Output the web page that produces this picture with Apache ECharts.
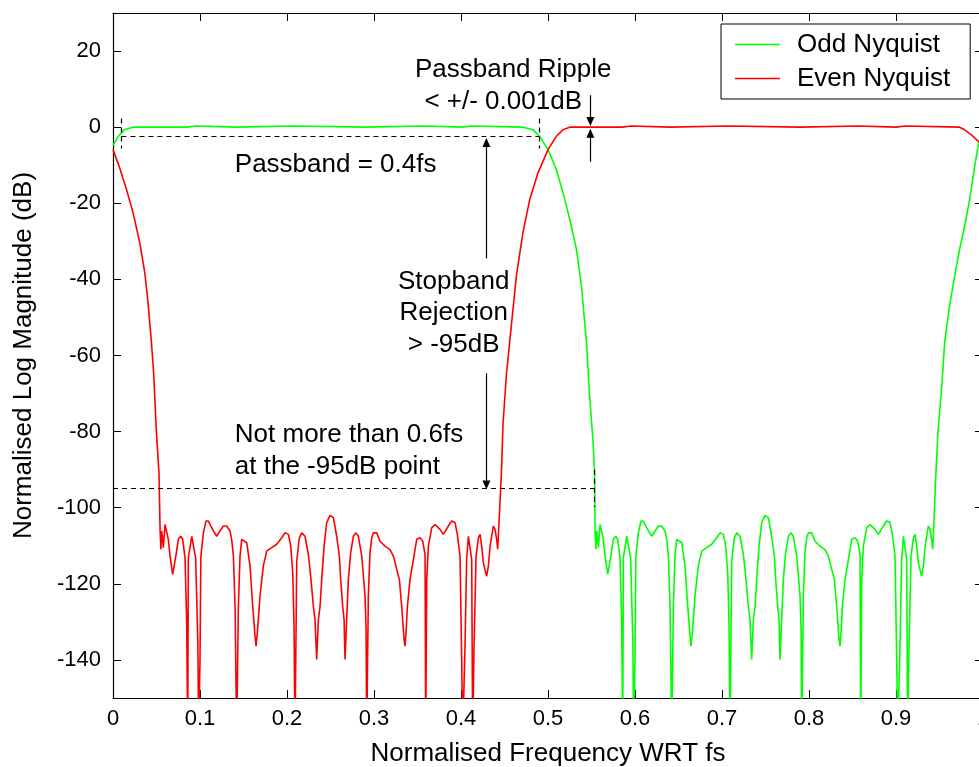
<!DOCTYPE html>
<html>
<head>
<meta charset="utf-8">
<title>Odd / Even Nyquist filter response</title>
<script src="https://cdn.jsdelivr.net/npm/echarts@6/dist/echarts.min.js"></script>
<style>
  html, body { margin: 0; padding: 0; background: #fff; }
  #chart { width: 979px; height: 767px; }
</style>
</head>
<body>
<div id="chart"></div>
<script>
// y tick values (x ticks come from interval 0.1)
const yTickValues = [-140, -120, -100, -80, -60, -40, -20, 0, 20];

// Odd Nyquist (green) - [freq WRT fs, dB]
const oddNyquist = [
  [0, -4.8], [0.006, -2.4], [0.013, -0.7], [0.023, 0],
  [0.085, 0], [0.086, 0.3], [0.096, 0.3], [0.097, 0],
  [0.141, 0], [0.142, 0.3], [0.207, 0.3], [0.208, 0],
  [0.291, 0], [0.292, 0.3], [0.357, 0.3], [0.358, 0],
  [0.402, 0], [0.403, 0.3], [0.412, 0.3], [0.413, 0],
  [0.471, 0], [0.4828, -0.7], [0.4904, -2.4], [0.5, -5.9], [0.5096, -11.1], [0.5172, -17.2],
  [0.525, -24.2], [0.5326, -32], [0.5384, -41.6], [0.5441, -56.3], [0.548, -71.1], [0.5517, -82.4], [0.5536, -91.1],
  [0.5541, -105.7], [0.5550, -110.9], [0.5560, -106.1], [0.5579, -110.5], [0.5598, -104.4], [0.5617, -104.8],
  [0.5636, -108.3], [0.5656, -112.7], [0.5686, -117.5], [0.5702, -117.1], [0.5725, -112.3], [0.5751, -108.3],
  [0.5778, -107.5], [0.5801, -108.3], [0.5828, -113.2], [0.5847, -130], [0.5859, -160], [0.5866, -113.2],
  [0.5905, -107.5], [0.5924, -107.0], [0.5950, -113.2], [0.5975, -135], [0.5985, -160], [0.6000, -139.9],
  [0.6010, -112.7], [0.6039, -106.6], [0.6069, -103.5], [0.6096, -103.5], [0.6115, -104.4], [0.6154, -106.1],
  [0.6192, -107.5], [0.6230, -106.1], [0.6269, -104.8], [0.6307, -104.8], [0.6345, -106.1], [0.6364, -108.3],
  [0.6384, -112.7], [0.6403, -125.9], [0.6422, -160], [0.6441, -125.9], [0.6460, -112.7], [0.6479, -108.3],
  [0.6498, -107.9], [0.6537, -109.2], [0.6575, -115.3], [0.6606, -125.9], [0.6633, -133.8], [0.6644, -136.4],
  [0.6659, -132.9], [0.6690, -123.2], [0.6728, -115.3], [0.6767, -111.4], [0.6824, -110.5], [0.6882, -109.6],
  [0.6939, -107.9], [0.6977, -106.6], [0.7016, -107.0], [0.7043, -110.1], [0.7066, -117.1], [0.7081, -131.1],
  [0.7092, -160], [0.7112, -114.0], [0.7142, -107.9], [0.7169, -106.6], [0.7207, -107.5], [0.7246, -112.3],
  [0.7276, -118.9], [0.7303, -125.9], [0.7322, -129.4], [0.7341, -139.9], [0.7361, -129.4], [0.7380, -125.9],
  [0.7399, -118.9], [0.7426, -110.1], [0.7456, -103.9], [0.7495, -102.0], [0.7533, -102.6], [0.7571, -107.5],
  [0.7602, -112.7], [0.7617, -118.9], [0.7640, -125.9], [0.7656, -129.4], [0.7667, -139.9], [0.7686, -129.4],
  [0.7705, -118.9], [0.7732, -111.8], [0.7763, -107.5], [0.7790, -106.6], [0.7820, -107.5], [0.7859, -112.7],
  [0.7897, -123.2], [0.7909, -132], [0.7916, -160], [0.7935, -123.2], [0.7954, -111.8], [0.7974, -107.9],
  [0.7993, -106.6], [0.8031, -106.6], [0.8069, -108.8], [0.8127, -110.1], [0.8184, -111], [0.8223, -112.7],
  [0.8261, -116.2], [0.8292, -118.9], [0.8318, -125.9], [0.8345, -134.6], [0.8357, -136.4], [0.8368, -132.9],
  [0.8384, -125.9], [0.8414, -118.9], [0.8453, -113.6], [0.8491, -108.3], [0.8529, -107.9], [0.8560, -108.8],
  [0.8587, -112.3], [0.8594, -160], [0.8606, -118.9], [0.8625, -110.1], [0.8663, -105.3], [0.8702, -104.4],
  [0.8759, -105.7], [0.8797, -107.0], [0.8855, -104.8], [0.8893, -103.5], [0.8931, -103.9], [0.8958, -107.0],
  [0.8989, -112.7], [0.9008, -139.9], [0.9020, -160], [0.9046, -136.4], [0.9065, -113.6], [0.9085, -107.5],
  [0.9104, -107.5], [0.9123, -113.6], [0.9134, -160], [0.9150, -136.4], [0.9173, -112.7], [0.9200, -107.9],
  [0.9219, -107.0], [0.9238, -110.1], [0.9257, -114.5], [0.9295, -118.0], [0.9315, -115.3], [0.9334, -110.1],
  [0.9372, -104.8], [0.9391, -105.7], [0.9410, -108.3], [0.9422, -110.9], [0.9433, -105.7], [0.9449, -105.7],
  [0.9458, -91.1], [0.9483, -79.8], [0.9522, -69.4], [0.956, -56.3], [0.9617, -46.8], [0.9675, -39],
  [0.9732, -32], [0.979, -25.9], [0.9847, -19], [0.9904, -10.3], [0.995, -4.2], [1, -3.5]
];

// Even Nyquist (red)
const evenNyquist = [
  [0, -5.9], [0.0077, -10.7], [0.0154, -16.3], [0.023, -22.4], [0.0307, -30.3], [0.0364, -38], [0.0402, -45.9],
  [0.0441, -56.3], [0.0468, -65], [0.0498, -79.8], [0.0529, -91.1],
  [0.0541, -105.7], [0.0550, -110.9], [0.0560, -106.1], [0.0579, -110.5], [0.0598, -104.4], [0.0617, -104.8],
  [0.0636, -108.3], [0.0656, -112.7], [0.0686, -117.5], [0.0702, -117.1], [0.0725, -112.3], [0.0751, -108.3],
  [0.0778, -107.5], [0.0801, -108.3], [0.0828, -113.2], [0.0847, -130], [0.0859, -160], [0.0866, -113.2],
  [0.0905, -107.5], [0.0924, -107.0], [0.0950, -113.2], [0.0975, -135], [0.0985, -160], [0.1000, -139.9],
  [0.1010, -112.7], [0.1039, -106.6], [0.1069, -103.5], [0.1096, -103.5], [0.1115, -104.4], [0.1154, -106.1],
  [0.1192, -107.5], [0.1230, -106.1], [0.1269, -104.8], [0.1307, -104.8], [0.1345, -106.1], [0.1364, -108.3],
  [0.1384, -112.7], [0.1403, -125.9], [0.1422, -160], [0.1441, -125.9], [0.1460, -112.7], [0.1479, -108.3],
  [0.1498, -107.9], [0.1537, -109.2], [0.1575, -115.3], [0.1606, -125.9], [0.1633, -133.8], [0.1644, -136.4],
  [0.1659, -132.9], [0.1690, -123.2], [0.1728, -115.3], [0.1767, -111.4], [0.1824, -110.5], [0.1882, -109.6],
  [0.1939, -107.9], [0.1977, -106.6], [0.2016, -107.0], [0.2043, -110.1], [0.2066, -117.1], [0.2081, -131.1],
  [0.2092, -160], [0.2112, -114.0], [0.2142, -107.9], [0.2169, -106.6], [0.2207, -107.5], [0.2246, -112.3],
  [0.2276, -118.9], [0.2303, -125.9], [0.2322, -129.4], [0.2341, -139.9], [0.2361, -129.4], [0.2380, -125.9],
  [0.2399, -118.9], [0.2426, -110.1], [0.2456, -103.9], [0.2495, -102.0], [0.2533, -102.6], [0.2571, -107.5],
  [0.2602, -112.7], [0.2617, -118.9], [0.2640, -125.9], [0.2656, -129.4], [0.2667, -139.9], [0.2686, -129.4],
  [0.2705, -118.9], [0.2732, -111.8], [0.2763, -107.5], [0.2790, -106.6], [0.2820, -107.5], [0.2859, -112.7],
  [0.2897, -123.2], [0.2909, -132], [0.2916, -160], [0.2935, -123.2], [0.2954, -111.8], [0.2974, -107.9],
  [0.2993, -106.6], [0.3031, -106.6], [0.3069, -108.8], [0.3127, -110.1], [0.3184, -111], [0.3223, -112.7],
  [0.3261, -116.2], [0.3292, -118.9], [0.3318, -125.9], [0.3345, -134.6], [0.3357, -136.4], [0.3368, -132.9],
  [0.3384, -125.9], [0.3414, -118.9], [0.3453, -113.6], [0.3491, -108.3], [0.3529, -107.9], [0.3560, -108.8],
  [0.3587, -112.3], [0.3594, -160], [0.3606, -118.9], [0.3625, -110.1], [0.3663, -105.3], [0.3702, -104.4],
  [0.3759, -105.7], [0.3797, -107.0], [0.3855, -104.8], [0.3893, -103.5], [0.3931, -103.9], [0.3958, -107.0],
  [0.3989, -112.7], [0.4008, -139.9], [0.4020, -160], [0.4046, -136.4], [0.4065, -113.6], [0.4085, -107.5],
  [0.4104, -107.5], [0.4123, -113.6], [0.4134, -160], [0.4150, -136.4], [0.4173, -112.7], [0.4200, -107.9],
  [0.4219, -107.0], [0.4238, -110.1], [0.4257, -114.5], [0.4295, -118.0], [0.4315, -115.3], [0.4334, -110.1],
  [0.4372, -104.8], [0.4391, -105.7], [0.4410, -108.3], [0.4422, -110.9], [0.4433, -105.7], [0.4449, -105.7],
  [0.4464, -91.1], [0.4483, -78], [0.4522, -65], [0.4579, -52], [0.4637, -39], [0.4713, -27.6], [0.479, -19],
  [0.4885, -12], [0.5, -5.9], [0.5096, -2.4], [0.5172, -0.7], [0.525, 0],
  [0.585, 0], [0.586, 0.3], [0.596, 0.3], [0.597, 0],
  [0.640, 0], [0.641, 0.3], [0.707, 0.3], [0.708, 0],
  [0.790, 0], [0.791, 0.3], [0.857, 0.3], [0.858, 0],
  [0.900, 0], [0.901, 0.3], [0.911, 0.3], [0.912, 0],
  [0.973, 0], [0.979, -0.7], [0.9866, -2.0], [0.995, -3.8], [1, -5.2]
];

// annotation values (data units)
const passbandEdges = [0.0097, 0.4897];
const passbandLevel = -2.5;
const rejectionEdge = 0.5536;
const rejectionLevel = -95;
const rejectionArrowX = 0.4292;
const rippleArrowX = 0.5487;

const FONT = '"Liberation Sans", Arial, sans-serif';

const chart = echarts.init(document.getElementById('chart'));

const dashed = { color: '#000', width: 1.2, type: [5, 4] };
const solid = { color: '#000', width: 1.2, type: 'solid' };

function seg(a, b, style, arrow) {
  return [
    { coord: a, symbol: 'none', lineStyle: style },
    { coord: b, symbol: arrow ? 'triangle' : 'none', symbolSize: [8, 9] }
  ];
}

const axisLine = { show: true, onZero: false, lineStyle: { color: '#000', width: 1.2 } };

const option = {
  animation: false,
  backgroundColor: '#fff',
  textStyle: { fontFamily: FONT },
  grid: { left: 113, top: 13, right: -4, bottom: 69, outerBoundsMode: 'none', containLabel: false },
  legend: {
    data: [
      { name: 'Odd Nyquist', icon: 'rect' },
      { name: 'Even Nyquist', icon: 'rect' }
    ],
    orient: 'vertical',
    left: 721,
    top: 24,
    padding: [6, 20, 6, 14],
    itemGap: 5,
    itemWidth: 45,
    itemHeight: 1.6,
    borderColor: '#000',
    borderWidth: 1,
    borderRadius: 0,
    backgroundColor: '#fff',
    textStyle: { fontSize: 26, lineHeight: 29, color: '#000', fontFamily: FONT, padding: [0, 0, 0, 12] }
  },
  xAxis: [
    {
      type: 'value', min: 0, max: 1, interval: 0.1, position: 'bottom',
      name: 'Normalised Frequency WRT fs', nameLocation: 'middle', nameGap: 43,
      nameTextStyle: { fontSize: 26, color: '#000', fontFamily: FONT },
      axisLine: axisLine,
      axisTick: { inside: true, length: 8, lineStyle: { color: '#000' } },
      axisLabel: { fontSize: 22, color: '#000', margin: 10, fontFamily: FONT },
      splitLine: { show: false }
    },
    {
      type: 'value', min: 0, max: 1, interval: 0.1, position: 'top',
      axisLine: axisLine,
      axisTick: { inside: true, length: 8, lineStyle: { color: '#000' } },
      axisLabel: { show: false },
      splitLine: { show: false }
    }
  ],
  yAxis: [
    {
      type: 'value', min: -150, max: 30, position: 'left',
      name: 'Normalised Log Magnitude (dB)', nameLocation: 'middle', nameGap: 76,
      nameTextStyle: { fontSize: 26, color: '#000', fontFamily: FONT },
      axisLine: axisLine,
      axisTick: { show: true, inside: true, length: 8, customValues: yTickValues, lineStyle: { color: '#000' } },
      axisLabel: { fontSize: 22, color: '#000', margin: 12, customValues: yTickValues, fontFamily: FONT },
      splitLine: { show: false }
    },
    {
      type: 'value', min: -150, max: 30, position: 'right',
      axisLine: axisLine,
      axisTick: { show: true, inside: true, length: 8, customValues: yTickValues, lineStyle: { color: '#000' } },
      axisLabel: { show: false },
      splitLine: { show: false }
    }
  ],
  series: [
    {
      name: 'Odd Nyquist', type: 'line', data: oddNyquist, symbol: 'none',
      color: '#00ff00', lineStyle: { color: '#00ff00', width: 1.6 }, clip: true, z: 3
    },
    {
      name: 'Even Nyquist', type: 'line', data: evenNyquist, symbol: 'none',
      color: '#ff0000', lineStyle: { color: '#ff0000', width: 1.6 }, clip: true, z: 4
    },
    {
      name: 'annotations', type: 'line', data: [], silent: true, z: 5,
      markLine: {
        silent: true,
        symbol: ['none', 'none'],
        label: { show: false },
        emphasis: { disabled: true },
        lineStyle: dashed,
        itemStyle: { color: '#000' },
        data: [
          seg([passbandEdges[0], passbandLevel], [passbandEdges[1], passbandLevel], dashed),
          seg([passbandEdges[0], 2.3], [passbandEdges[0], -5.6], dashed),
          seg([passbandEdges[1], 2.3], [passbandEdges[1], -5.6], dashed),
          seg([0, rejectionLevel], [rejectionEdge, rejectionLevel], dashed),
          seg([rejectionEdge, -90], [rejectionEdge, -99.8], dashed),
          seg([rejectionArrowX, -34.5], [rejectionArrowX, -4.0], solid, true),
          seg([rejectionArrowX, -64.7], [rejectionArrowX, -94.0], solid, true),
          seg([rippleArrowX, 8.4], [rippleArrowX, 1.5], solid, true),
          seg([rippleArrowX, -9.1], [rippleArrowX, -1.6], solid, true)
        ]
      }
    }
  ]
};

chart.setOption(option);

// text annotations placed in data units
const notes = [
  { text: 'Passband Ripple', at: [0.46, 15.0], align: 'center' },
  { text: '< +/- 0.001dB', at: [0.4485, 6.6], align: 'center' },
  { text: 'Passband = 0.4fs', at: [0.14, -10.0], align: 'left' },
  { text: 'Stopband', at: [0.3916, -40.6], align: 'center' },
  { text: 'Rejection', at: [0.3916, -48.9], align: 'center' },
  { text: '> -95dB', at: [0.3916, -57.2], align: 'center' },
  { text: 'Not more than 0.6fs', at: [0.14, -80.9], align: 'left' },
  { text: 'at the -95dB point', at: [0.14, -89.2], align: 'left' }
];

chart.setOption({
  graphic: notes.map(n => {
    const p = chart.convertToPixel({ xAxisIndex: 0, yAxisIndex: 0 }, n.at);
    return {
      type: 'text', x: p[0], y: p[1], z: 10, silent: true,
      style: {
        text: n.text, fill: '#000', font: '26px ' + FONT,
        align: n.align, verticalAlign: 'middle'
      }
    };
  })
});
</script>
</body>
</html>
